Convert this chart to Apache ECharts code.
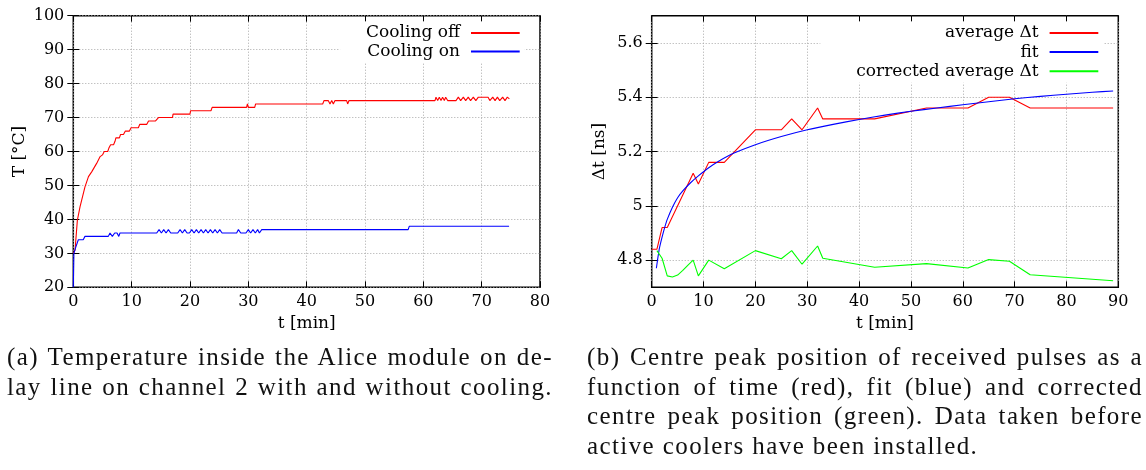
<!DOCTYPE html>
<html>
<head>
<meta charset="utf-8">
<script src="https://cdn.jsdelivr.net/npm/echarts@6/dist/echarts.min.js"></script>
<style>
html,body{margin:0;padding:0;background:#fff;}
#chart{position:absolute;left:0;top:0;width:1146px;height:470px;}
.cap{position:absolute;top:342px;font-family:'Liberation Serif',serif;font-size:25px;line-height:29.6px;color:#111;letter-spacing:1.4px;}
.cap div{text-align:justify;text-align-last:justify;white-space:nowrap;}
.cap div.last{text-align:left;text-align-last:left;}
</style>
</head>
<body>
<div id="chart"></div>
<div class="cap" style="left:7px;width:546px;">
  <div>(a) Temperature inside the Alice module on de-</div>
  <div>lay line on channel 2 with and without cooling.</div>
</div>
<div class="cap" style="left:587px;width:556px;">
  <div>(b) Centre peak position of received pulses as a</div>
  <div>function of time (red), fit (blue) and corrected</div>
  <div>centre peak position (green). Data taken before</div>
  <div class="last">active coolers have been installed.</div>
</div>
<script>
// ---- Data: left panel (temperature, [t min, T °C]) ----
const coolingOff = [
  [0,30],[0.3,31],[0.7,39.8],[1.15,43.7],[2.0,49.6],[2.6,52.6],[3.15,54],[4.0,56.5],[4.6,58.5],
  [5.0,59],[5.3,60],[5.9,60],[6.1,61],[6.4,62],[6.9,62],[7.15,63],[7.3,64],[7.9,64],[8.1,65],
  [8.6,65],[8.9,66],[9.6,66],[9.9,67],[11.15,67],[11.4,68],[12.6,68],[12.9,69],[14.1,69],[14.6,70],
  [17.0,70],[17.1,71],[20.0,71],[20.1,72],[23.6,72],[23.8,73],[29.7,73],[29.85,74],[30.0,73],
  [31.1,73],[31.25,74],[31.35,73.5],[31.5,74],[42.75,74],[42.97,75],[43.7,75],[44.0,74],[44.3,75],
  [44.57,74],[44.86,75],[46.86,75],[47.03,74],[47.26,75],[62.0,75],[62.17,76],[62.46,75],[62.74,76],
  [63.03,75],[63.3,76],[63.6,75],[63.83,76],[64.17,75],[65.6,75],[66.0,76],[66.4,75],[66.86,76],
  [67.26,75],[67.7,76],[68.1,75],[68.57,76],[69.0,75],[69.43,76],[71.1,76],[71.4,75],[71.9,76],
  [72.3,75],[72.7,76],[73.1,75],[73.6,76],[74.0,75],[74.4,76],[74.75,75.5]
];
const coolingOn = [
  [0,20],[0.1,30],[0.4,31.7],[0.86,34],[1.7,34],[2.0,35],[6.0,35],[6.29,36],[6.69,35],[7.1,36],
  [7.5,36],[7.8,35],[8.0,36],[14.3,36],[14.7,37],[15.1,36],[15.5,37],[15.9,36],[16.3,37],[16.7,36],
  [17.9,36],[18.3,37],[18.7,36],[19.1,37],[19.5,36],[19.9,36],[20.3,37],[20.7,36],[21.1,37],[21.5,36],
  [21.9,37],[22.3,36],[22.7,37],[23.1,36],[23.5,37],[23.9,36],[24.3,37],[24.7,36],[25.1,37],[25.5,36],
  [28.0,36],[28.3,37],[28.7,36],[29.6,36],[30.0,37],[30.4,36],[30.8,37],[31.2,36],[31.6,37],[31.9,36],
  [32.3,37],[57.4,37],[57.6,38],[74.7,38]
];
// ---- Data: right panel (Δt, [t min, Δt ns]) ----
const averageDt = [
  [0,4.84],[1.0,4.84],[2.0,4.92],[3.0,4.92],[8.0,5.12],[9.0,5.08],[11.0,5.16],[14.0,5.16],
  [20.0,5.28],[25.0,5.28],[27.0,5.32],[29.0,5.28],[32.0,5.36],[33.0,5.32],[43.0,5.32],[53.0,5.36],
  [61.0,5.36],[65.0,5.40],[69.0,5.40],[73.0,5.36],[89.0,5.36]
];
const fitDt = [
  [0.9,4.77],[1.2,4.81],[1.5,4.845],[2,4.885],[2.5,4.92],[3,4.95],[4,4.995],[5,5.03],[6,5.055],
  [7.5,5.085],[9,5.11],[11,5.14],[13,5.165],[16,5.195],[20,5.225],[25,5.255],[30,5.28],[35,5.3],
  [40,5.318],[45,5.334],[50,5.348],[55,5.36],[60,5.372],[65,5.383],[70,5.394],[75,5.403],
  [80,5.411],[85,5.418],[89,5.423]
];
const correctedDt = [
  [1.0,4.835],[2.0,4.807],[3.0,4.742],[4.0,4.738],[5.0,4.745],[6.0,4.762],[7.0,4.782],[8.0,4.80],
  [9.0,4.742],[11.0,4.80],[14.0,4.768],[20.0,4.835],[25.0,4.805],[27.0,4.835],[29.0,4.785],
  [32.0,4.852],[33.0,4.807],[43.0,4.774],[53.0,4.787],[61.0,4.771],[65.0,4.802],[69.0,4.796],
  [73.0,4.746],[89.0,4.724]
];
// ---- Tick labels ----
const dtTicks = [4.8, 5.0, 5.2, 5.4, 5.6];

const FONT = 'DejaVu Serif';
const tickLabel = {fontFamily: FONT, fontSize: 16, color: '#000'};
const nameStyle = {fontFamily: FONT, fontSize: 17, color: '#000'};
const grid = {color: '#a8a8a8', type: [1, 2], width: 1};
const tick = {inside: true, length: 6, lineStyle: {color: '#000', width: 1}};

function mainX(gi, max, name) {
  return {gridIndex: gi, type: 'value', min: 0, max: max, interval: 10, position: 'bottom',
    axisLine: {show: false}, axisTick: tick,
    axisLabel: Object.assign({margin: 7}, tickLabel),
    splitLine: {show: true, lineStyle: grid},
    name: name, nameLocation: 'middle', nameGap: 25, nameTextStyle: nameStyle};
}
function mirrorX(gi, max) {
  return {gridIndex: gi, type: 'value', min: 0, max: max, interval: 10, position: 'top',
    axisLine: {show: false}, axisTick: tick, axisLabel: {show: false}, splitLine: {show: false}};
}

const option = {
  animation: false,
  backgroundColor: '#fff',
  grid: [
    {left: 73.3, top: 15.7, width: 466.7, height: 271.6, show: true, borderColor: '#000', borderWidth: 1.5, backgroundColor: 'transparent'},
    {left: 651.7, top: 15.7, width: 466.6, height: 271.6, show: true, borderColor: '#000', borderWidth: 1.5, backgroundColor: 'transparent'}
  ],
  xAxis: [mainX(0, 80, 't [min]'), mirrorX(0, 80), mainX(1, 90, 't [min]'), mirrorX(1, 90)],
  yAxis: [
    {gridIndex: 0, type: 'value', min: 20, max: 100, interval: 10, position: 'left',
      axisLine: {show: false}, axisTick: tick, axisLabel: Object.assign({margin: 9}, tickLabel),
      splitLine: {show: true, lineStyle: grid},
      name: 'T [°C]', nameLocation: 'middle', nameGap: 45, nameRotate: 90, nameTextStyle: nameStyle},
    {gridIndex: 0, type: 'value', min: 20, max: 100, interval: 10, position: 'right',
      axisLine: {show: false}, axisTick: tick, axisLabel: {show: false}, splitLine: {show: false}},
    {gridIndex: 1, type: 'value', min: 4.7, max: 5.7, position: 'left',
      axisLine: {show: false},
      axisTick: Object.assign({customValues: dtTicks}, tick),
      axisLabel: Object.assign({margin: 9, customValues: dtTicks}, tickLabel),
      splitLine: {show: true, lineStyle: grid},
      name: 'Δt [ns]', nameLocation: 'middle', nameGap: 44, nameRotate: 90, nameTextStyle: nameStyle},
    {gridIndex: 1, type: 'value', min: 4.7, max: 5.7, position: 'right',
      axisLine: {show: false}, axisTick: Object.assign({customValues: dtTicks}, tick),
      axisLabel: {show: false}, splitLine: {show: false}}
  ],
  legend: [
    {data: ['Cooling off', 'Cooling on'], orient: 'vertical', align: 'right',
      right: 621.3, top: 21.5, itemWidth: 48.7, itemHeight: 14, itemGap: 1.6,
      padding: [3, 4, 2, 26], backgroundColor: '#fff', selectedMode: false,
      itemStyle: {opacity: 0},
      textStyle: {fontFamily: FONT, fontSize: 17, color: '#000', padding: [0, 6, 0, 0], lineHeight: 14}},
    {data: ['average Δt', 'fit', 'corrected average Δt'], orient: 'vertical', align: 'right',
      right: 42.7, top: 21.5, itemWidth: 48.7, itemHeight: 14, itemGap: 2.1,
      padding: [3, 4, 3, 36], backgroundColor: '#fff', selectedMode: false,
      itemStyle: {opacity: 0},
      textStyle: {fontFamily: FONT, fontSize: 17, color: '#000', padding: [0, 6, 0, 0], lineHeight: 14}}
  ],
  series: [
    {name: 'Cooling off', type: 'line', xAxisIndex: 0, yAxisIndex: 0, data: coolingOff,
      symbol: 'none', lineStyle: {color: '#ff0000', width: 1.1}, itemStyle: {color: '#ff0000'}},
    {name: 'Cooling on', type: 'line', xAxisIndex: 0, yAxisIndex: 0, data: coolingOn,
      symbol: 'none', lineStyle: {color: '#0000ff', width: 1.1}, itemStyle: {color: '#0000ff'}},
    {name: 'average Δt', type: 'line', xAxisIndex: 2, yAxisIndex: 2, data: averageDt,
      symbol: 'none', lineStyle: {color: '#ff0000', width: 1.1}, itemStyle: {color: '#ff0000'}},
    {name: 'fit', type: 'line', xAxisIndex: 2, yAxisIndex: 2, data: fitDt, smooth: 0.2,
      symbol: 'none', lineStyle: {color: '#0000ff', width: 1.1}, itemStyle: {color: '#0000ff'}},
    {name: 'corrected average Δt', type: 'line', xAxisIndex: 2, yAxisIndex: 2, data: correctedDt,
      symbol: 'none', lineStyle: {color: '#00ff00', width: 1.1}, itemStyle: {color: '#00ff00'}}
  ]
};
const chart = echarts.init(document.getElementById('chart'), null, {renderer: 'canvas'});
chart.setOption(option);
</script>
</body>
</html>
